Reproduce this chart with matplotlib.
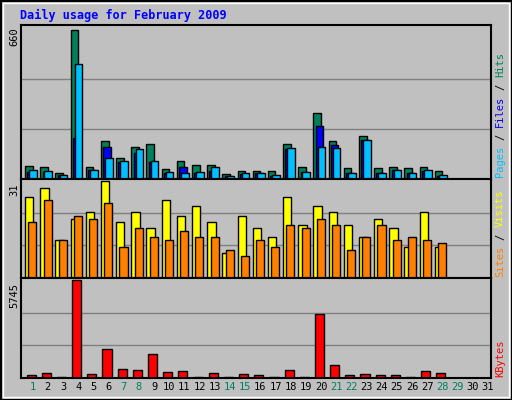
import matplotlib.pyplot as plt
import numpy as np
from matplotlib.patches import Rectangle

days = list(range(1, 32))
weekend = [1, 7, 8, 14, 15, 21, 22, 28, 29]

hits = [58, 53, 27, 655, 53, 168, 93, 142, 155, 44, 80, 62, 62, 22, 35, 35, 35, 155, 53, 290, 165, 49, 190, 49, 53, 49, 53, 35]
files = [31, 31, 18, 180, 40, 142, 75, 115, 75, 27, 53, 27, 35, 13, 22, 27, 13, 133, 31, 235, 148, 27, 173, 27, 40, 27, 35, 13]
pages = [40, 35, 18, 505, 40, 93, 80, 133, 80, 31, 27, 31, 53, 13, 27, 27, 18, 137, 31, 142, 137, 27, 173, 27, 40, 27, 40, 18]
visits = [26, 29, 12, 19, 21, 31, 18, 21, 16, 25, 20, 23, 18, 8, 20, 16, 13, 26, 17, 23, 21, 17, 13, 19, 16, 10, 21, 10]
sites = [18, 25, 12, 20, 19, 24, 10, 16, 13, 12, 15, 13, 13, 9, 7, 12, 10, 17, 16, 19, 17, 9, 13, 17, 12, 13, 12, 11]
kbytes = [147, 273, 84, 5745, 210, 1719, 524, 461, 1405, 335, 398, 84, 273, 84, 210, 147, 84, 461, 84, 3732, 776, 147, 210, 147, 147, 84, 398, 273]

BG = '#c0c0c0'
W, H = 512, 400
fs = 7.5
mono = 'DejaVu Sans Mono'

fig = plt.figure(figsize=(5.12, 4.0), dpi=100, facecolor=BG)
fig.patches.append(Rectangle((0.5/W, 0.5/H), 1-1/W, 1-1/H, transform=fig.transFigure,
                             fill=False, ec='black', lw=1.5))
fig.patches.append(Rectangle((3/W, 3/H), 1-6/W, 1-6/H, transform=fig.transFigure,
                             fill=False, ec='white', lw=1))

def px_axes(x0, y0, x1, y1):
    # pixel box, y from top
    return fig.add_axes([x0/W, 1-y1/H, (x1-x0)/W, (y1-y0)/H])

def style(ax, ymax):
    ax.set_facecolor(BG)
    ax.set_xlim(0, 31)
    ax.set_ylim(0, ymax * 1.025)
    for g in (ymax/3, 2*ymax/3):
        ax.axhline(g, color='#808080', lw=1, zorder=0)
    ax.set_yticks([])
    for s in ax.spines.values():
        s.set_color('black')
        s.set_linewidth(1.5)

x = np.arange(len(hits))

ax1 = px_axes(20.5, 25, 491, 179)
style(ax1, 660)
ax1.bar(x + 0.3, hits, 0.5, align='edge', color='#00805c', ec='black', lw=1)
ax1.bar(x + 0.45, files, 0.5, align='edge', color='#0000ff', ec='black', lw=1)
ax1.bar(x + 0.58, pages, 0.5, align='edge', color='#00c0ff', ec='black', lw=1)
ax1.set_xticks([])

ax2 = px_axes(20.5, 179, 491, 277.5)
style(ax2, 31)
ax2.bar(x + 0.3, visits, 0.55, align='edge', color='#ffff00', ec='black', lw=1)
ax2.bar(x + 0.52, sites, 0.53, align='edge', color='#ff8000', ec='black', lw=1)
ax2.set_xticks([])

ax3 = px_axes(20.5, 277.5, 491, 378)
style(ax3, 5745)
ax3.bar(x + 0.4, kbytes, 0.6, align='edge', color='#ff0000', ec='black', lw=1)
ax3.set_xticks(np.arange(31) + 0.8)
ax3.set_xticklabels([str(d) for d in days], fontsize=fs, family=mono)
ax3.tick_params(axis='x', length=0, pad=3)
for lbl, d in zip(ax3.get_xticklabels(), days):
    lbl.set_color('#00805c' if d in weekend else 'black')

fig.text(20/W, 1-15/H, 'Daily usage for February 2009', color='#0000ff',
         family=mono, fontsize=8.5, fontweight='bold', va='center')

for txt, ytop in (('660', 27), ('31', 183), ('5745', 283)):
    fig.text(14/W, 1-ytop/H, txt, rotation=90, family=mono, fontsize=fs,
             ha='center', va='top')

cw = 0.6 * fs * 100 / 72
labels = [
    (177, [('Pages', '#00c0ff'), (' / ', 'black'), ('Files', '#0000ff'), (' / ', 'black'), ('Hits', '#00805c')]),
    (277, [('Sites', '#ff8000'), (' / ', 'black'), ('Visits', '#ffff00')]),
    (377, [('KBytes', '#ff0000')]),
]
for ybot, segs in labels:
    y = ybot
    for seg, col in segs:
        n = len(seg)
        fig.text(500/W, 1-(y - n*cw/2)/H, seg.strip() if seg.strip() == '/' else seg,
                 rotation=90, family=mono, fontsize=fs, color=col,
                 ha='center', va='center')
        y -= n * cw

fig.savefig('out.png', dpi=100, facecolor=BG)
